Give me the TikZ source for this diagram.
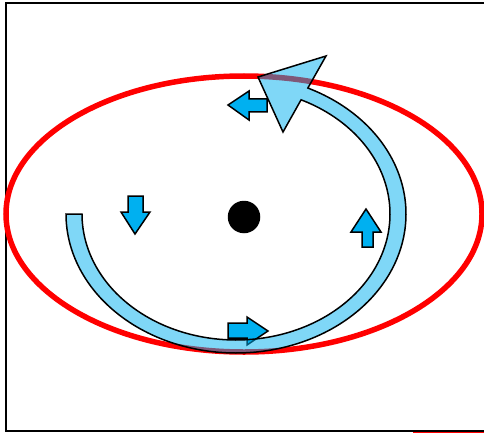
\documentclass[tikz,border=0pt]{standalone}
\definecolor{arrblue}{HTML}{00B0F0}
\begin{document}
\begin{tikzpicture}[x=1pt,y=-1pt,
  smallarrow/.style={fill=arrblue,draw=black,line width=1.5pt,line join=miter},
  ringarrow/.style={fill=arrblue,fill opacity=0.5,draw=black,draw opacity=1,line width=1.5pt,line join=miter}]
\useasboundingbox (0,0) rectangle (484,433);
\clip (0,0) rectangle (484,433);
\fill[white] (0,0) rectangle (484,433);
% frame
\draw[line width=2pt] (5.5,3) rectangle (500,431);
\draw[red,line width=0.6pt] (413,432.6) -- (500,432.6);
% red ellipse
\draw[red,line width=5.5pt] (244,214) ellipse [x radius=238, y radius=138];
% small arrows
\draw[smallarrow] (228,105) -- (249,91) -- (249,99) -- (267,99) -- (267,112) -- (249,112) -- (249,120) -- cycle;
\draw[smallarrow] (135,234) -- (121,212) -- (128,212) -- (128,196) -- (143,196) -- (143,212) -- (150,212) -- cycle;
\draw[smallarrow] (268,331) -- (247,317) -- (247,323) -- (228,323) -- (228,338) -- (247,338) -- (247,345) -- cycle;
\draw[smallarrow] (366,209) -- (381,232) -- (373,232) -- (373,247) -- (362,247) -- (362,232) -- (351,232) -- cycle;
% centre dot
\node[circle,fill=black,minimum size=32.5pt,inner sep=0pt] (dot) at (244,217) {};
% ring arrow
\draw[ringarrow] plot[domain=180:425,samples=80,smooth] ({236+170*cos(\x)},{214-139*sin(\x)})
  -- (326,56) -- (258,77) -- (283,132) --
  plot[domain=425:180,samples=80,smooth] ({236+154*cos(\x)},{214-126*sin(\x)}) -- cycle;
\end{tikzpicture}
\end{document}
